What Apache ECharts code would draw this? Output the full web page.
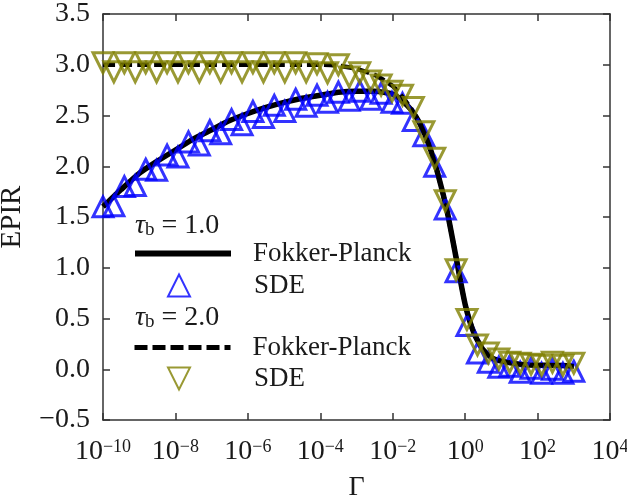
<!DOCTYPE html>
<html>
<head>
<meta charset="utf-8">
<script src="https://cdn.jsdelivr.net/npm/echarts@6/dist/echarts.min.js"></script>
<style>
  html, body { margin: 0; padding: 0; background: #fff; }
  #chart { width: 627px; height: 499px; }
</style>
</head>
<body>
<div id="chart"></div>
<script>
// Gamma grid of the SDE points, as log10(Gamma)
var sdeExp = [-10, -9.70, -9.41, -9.11, -8.82, -8.52, -8.23, -7.93, -7.64, -7.34,
  -7.05, -6.75, -6.45, -6.16, -5.86, -5.57, -5.27, -4.98, -4.68, -4.39,
  -4.09, -3.80, -3.50, -3.20, -2.91, -2.61, -2.32, -2.02, -1.73, -1.43,
  -1.14, -0.84, -0.55, -0.25, 0.05, 0.34, 0.64, 0.93, 1.23, 1.52,
  1.82, 2.11, 2.41, 2.70, 3.00];
// SDE, tau_b = 1.0
var sdeTau1 = [1.60, 1.61, 1.80, 1.81, 1.97, 1.96, 2.11, 2.09, 2.24, 2.21,
  2.35, 2.32, 2.46, 2.41, 2.54, 2.48, 2.60, 2.54, 2.66, 2.59,
  2.70, 2.63, 2.73, 2.65, 2.74, 2.66, 2.72, 2.63, 2.62, 2.45,
  2.30, 2.00, 1.58, 0.96, 0.43, 0.16, 0.07, 0.02, 0.03, -0.03,
  0.01, -0.04, 0.00, -0.04, -0.02];
// SDE, tau_b = 2.0
var sdeTau2 = [3.02, 2.93, 3.02, 2.93, 3.02, 2.93, 3.02, 2.93, 3.02, 2.93,
  3.02, 2.93, 3.02, 2.93, 3.02, 2.93, 3.02, 2.93, 3.02, 2.93,
  3.01, 2.92, 3.00, 2.88, 2.92, 2.84, 2.80, 2.74, 2.70, 2.58,
  2.34, 2.08, 1.66, 0.98, 0.49, 0.24, 0.16, 0.10, 0.07, 0.06,
  0.05, 0.04, 0.07, 0.04, 0.06];

// Fokker-Planck curves, log10(Gamma)
var fpExp = [-10, -9.5, -9, -8.5, -8, -7.5, -7, -6.5, -6, -5.5, -5, -4.5, -4, -3.5, -3, -2.5, -2,
  -1.75, -1.5, -1.25, -1, -0.75, -0.5, -0.25, 0, 0.25, 0.5, 0.75, 1,
  1.5, 2, 2.5, 3];
var fpTau1 = [1.60, 1.77, 1.93, 2.05, 2.16, 2.27, 2.36, 2.45, 2.52, 2.58, 2.63, 2.67, 2.70, 2.73, 2.74, 2.74, 2.71,
  2.65, 2.56, 2.42, 2.21, 1.92, 1.56, 1.10, 0.64, 0.35, 0.19, 0.11, 0.08,
  0.05, 0.04, 0.04, 0.03];
var fpTau2 = [3.00, 3.00, 3.00, 3.00, 3.00, 3.00, 3.00, 3.00, 3.00, 3.00, 3.00, 3.00, 3.00, 2.99, 2.96, 2.90, 2.79,
  2.69, 2.57, 2.42, 2.21, 1.92, 1.56, 1.10, 0.64, 0.35, 0.19, 0.11, 0.08,
  0.05, 0.04, 0.04, 0.03];

var legendNames = { fp1: 'Fokker-Planck', sde1: 'SDE', fp2: 'Fokker-Planck', sde2: 'SDE' };

function pairs(exps, vals) {
  return exps.map(function (e, i) { return [Math.pow(10, e), vals[i]]; });
}

var FONT = 'Liberation Serif';
var INK = '#1a1a1a';
var AXIS = '#333';

var chart = echarts.init(document.getElementById('chart'), null, { renderer: 'canvas' });

var xBase = {
  type: 'log', logBase: 10, min: 1e-10, max: 1e4, interval: 2,
  axisLine: { onZero: false, lineStyle: { color: AXIS, width: 1.5 } },
  axisTick: { inside: true, length: 7, lineStyle: { color: AXIS, width: 1.5 } },
  minorTick: { show: false },
  splitLine: { show: false }
};
var yBase = {
  type: 'value', min: -0.5, max: 3.5, interval: 0.5,
  axisLine: { show: true, onZero: false, lineStyle: { color: AXIS, width: 1.5 } },
  axisTick: { show: true, inside: true, length: 7, lineStyle: { color: AXIS, width: 1.5 } },
  splitLine: { show: false }
};

// one legend per entry so line and marker icons can have their own sizes
function legendItem(item, left, top, w, textPad, extra) {
  var l = {
    data: [item], orient: 'vertical', left: left, top: top,
    itemWidth: w, itemHeight: 22, selectedMode: false,
    formatter: function (n) { return legendNames[n]; },
    textStyle: { fontFamily: FONT, fontSize: 27, color: INK, padding: [0, 0, 0, textPad] }
  };
  return Object.assign(l, extra || {});
}
var noSymbol = { color: 'rgba(0,0,0,0)', borderColor: 'rgba(0,0,0,0)', borderWidth: 0 };

function tauLabel(txt, top) {
  return {
    type: 'text', left: 135, top: top,
    style: {
      text: '{t|τ}{s|b}{n| = ' + txt + '}',
      rich: {
        t: { fontFamily: FONT, fontSize: 28, fontStyle: 'italic', fill: INK },
        s: { fontFamily: FONT, fontSize: 19, fill: INK, verticalAlign: 'bottom' },
        n: { fontFamily: FONT, fontSize: 28, fill: INK }
      }
    }
  };
}

var option = {
  animation: false,
  grid: { left: 103, right: 17, top: 14, bottom: 79, outerBoundsMode: 'none' },
  xAxis: [
    Object.assign({}, xBase, {
      position: 'bottom',
      name: 'Γ', nameLocation: 'middle', nameGap: 54,
      nameTextStyle: { fontFamily: FONT, fontSize: 28, color: INK },
      axisLabel: {
        margin: 18, fontFamily: FONT, fontSize: 28, color: INK, showMaxLabel: true,
        formatter: function (v) {
          var p = Math.round(Math.log10(v));
          return '10{sup|' + (p < 0 ? '\u2212' + (-p) : p) + '}';
        },
        rich: { sup: { fontFamily: FONT, fontSize: 18, color: INK, verticalAlign: 'top' } }
      }
    }),
    Object.assign({}, xBase, { position: 'top', axisLabel: { show: false } })
  ],
  yAxis: [
    Object.assign({}, yBase, {
      position: 'left',
      name: 'EPIR', nameLocation: 'middle', nameGap: 76, nameRotate: 90,
      nameTextStyle: { fontFamily: FONT, fontSize: 29, color: INK },
      axisLabel: {
        margin: 13, fontFamily: FONT, fontSize: 28, color: INK,
        formatter: function (v) {
          return v < 0 ? '\u2212' + Math.abs(v).toFixed(1) : v.toFixed(1);
        }
      }
    }),
    Object.assign({}, yBase, { position: 'right', axisLabel: { show: false } })
  ],
  legend: [
    legendItem('fp1', 127, 235, 96, 17, { itemStyle: noSymbol, lineStyle: { width: 6 } }),
    legendItem('sde1', 162, 267, 22, 59),
    legendItem('fp2', 127, 329, 96, 17, { itemStyle: noSymbol, lineStyle: { width: 5, type: [13, 5] } }),
    legendItem({ name: 'sde2', icon: 'path://M0,0L20,0L10,20Z' }, 162, 360, 22, 59)
  ],
  graphic: [tauLabel('1.0', 212), tauLabel('2.0', 304)],
  series: [
    {
      name: 'fp1', type: 'line', symbol: 'none', smooth: 0.2,
      data: pairs(fpExp, fpTau1),
      lineStyle: { color: '#000', width: 5.5 }, itemStyle: { color: '#000' }, z: 2
    },
    {
      name: 'sde1', type: 'scatter', symbol: 'triangle', symbolSize: 20,
      data: pairs(sdeExp, sdeTau1),
      itemStyle: { color: 'rgba(0,0,0,0)', borderColor: '#0000ff', borderWidth: 3 }, z: 3
    },
    {
      name: 'fp2', type: 'line', symbol: 'none', smooth: 0.2,
      data: pairs(fpExp, fpTau2),
      lineStyle: { color: '#000', width: 4.5, type: [12, 5] }, itemStyle: { color: '#000' }, z: 4
    },
    {
      name: 'sde2', type: 'scatter', symbol: 'triangle', symbolSize: 20, symbolRotate: 180,
      data: pairs(sdeExp, sdeTau2),
      itemStyle: { color: 'rgba(0,0,0,0)', borderColor: '#808000', borderWidth: 3 }, z: 5
    }
  ]
};

chart.setOption(option);
</script>
</body>
</html>
